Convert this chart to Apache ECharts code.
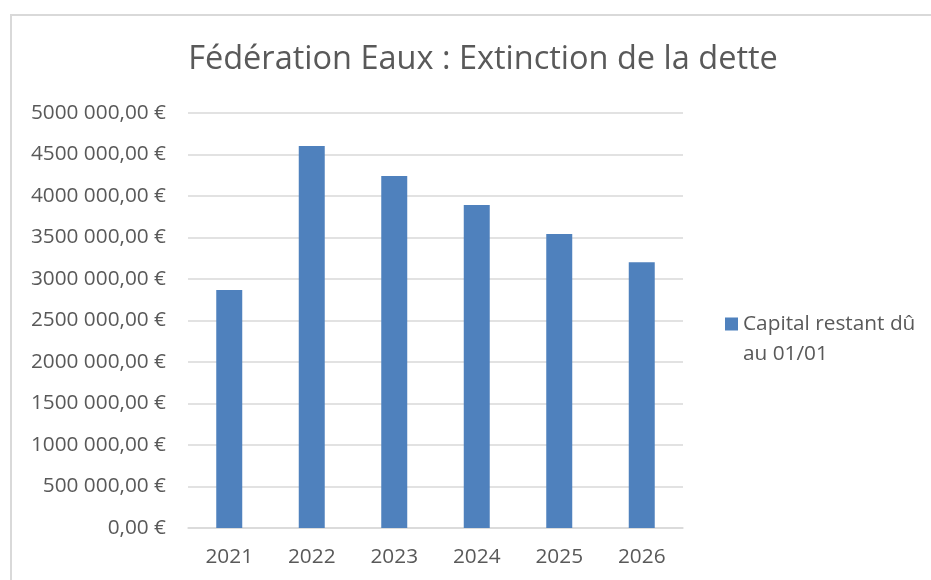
<!DOCTYPE html>
<html>
<head>
<meta charset="utf-8">
<script src="https://cdn.jsdelivr.net/npm/echarts@6/dist/echarts.min.js"></script>
<style>
html, body { margin: 0; padding: 0; background: #ffffff; }
#chart { width: 931px; height: 580px; }
</style>
</head>
<body>
<div id="chart"></div>
<script>
// données
var years = ['2021', '2022', '2023', '2024', '2025', '2026']
var capital = [2867000, 4602000, 4241000, 3892000, 3542000, 3201000]
var seriesName = 'Capital restant dû au 01/01'
var titleText = 'Fédération Eaux : Extinction de la dette'

var font = '"Open Sans", "Liberation Sans", sans-serif'
var grey = '#595959'

function euro (v) { // format "# ##0,00 €"
  if (v < 1000) return v + ',00 €'
  var th = Math.floor(v / 1000)
  var rest = String(v % 1000)
  while (rest.length < 3) rest = '0' + rest
  return th + ' ' + rest + ',00 €'
}

var chart = echarts.init(document.getElementById('chart'))
chart.setOption({
  animation: false,
  backgroundColor: '#ffffff',
  textStyle: { fontFamily: font },
  graphic: [{
    type: 'rect',
    shape: { x: 11, y: 15, width: 1000, height: 1000 },
    style: { fill: 'none', stroke: '#d9d9d9', lineWidth: 2 },
    silent: true
  }],
  title: {
    text: titleText,
    left: 478,
    top: 38,
    textAlign: 'center',
    textStyle: { fontFamily: font, fontSize: 32.5, fontWeight: 'normal', color: grey }
  },
  legend: {
    left: 725,
    top: 309,
    padding: 0,
    itemWidth: 13,
    itemHeight: 43,
    data: [{ name: seriesName, icon: 'path://M0,0H13V13H0Z M0,43L0.01,43' }],
    formatter: function (name) { return name.replace(' au ', '\nau ') },
    textStyle: { fontFamily: font, fontSize: 20.8, lineHeight: 30, color: grey }
  },
  grid: { left: 188, right: 248, top: 113, bottom: 52 },
  xAxis: {
    type: 'category',
    data: years,
    axisTick: { show: false },
    axisLine: { lineStyle: { color: '#d9d9d9', width: 1.5 } },
    axisLabel: { margin: 19, fontFamily: font, fontSize: 20.8, color: grey }
  },
  yAxis: {
    type: 'value',
    min: 0,
    max: 5000000,
    interval: 500000,
    axisLine: { show: false },
    axisTick: { show: false },
    splitLine: { lineStyle: { color: '#d9d9d9', width: 1.5 } },
    axisLabel: { margin: 22, fontFamily: font, fontSize: 20.8, color: grey, formatter: euro }
  },
  series: [{
    name: seriesName,
    type: 'bar',
    data: capital,
    barWidth: '31.5%',
    itemStyle: { color: '#4f81bd' }
  }]
})
</script>
</body>
</html>
